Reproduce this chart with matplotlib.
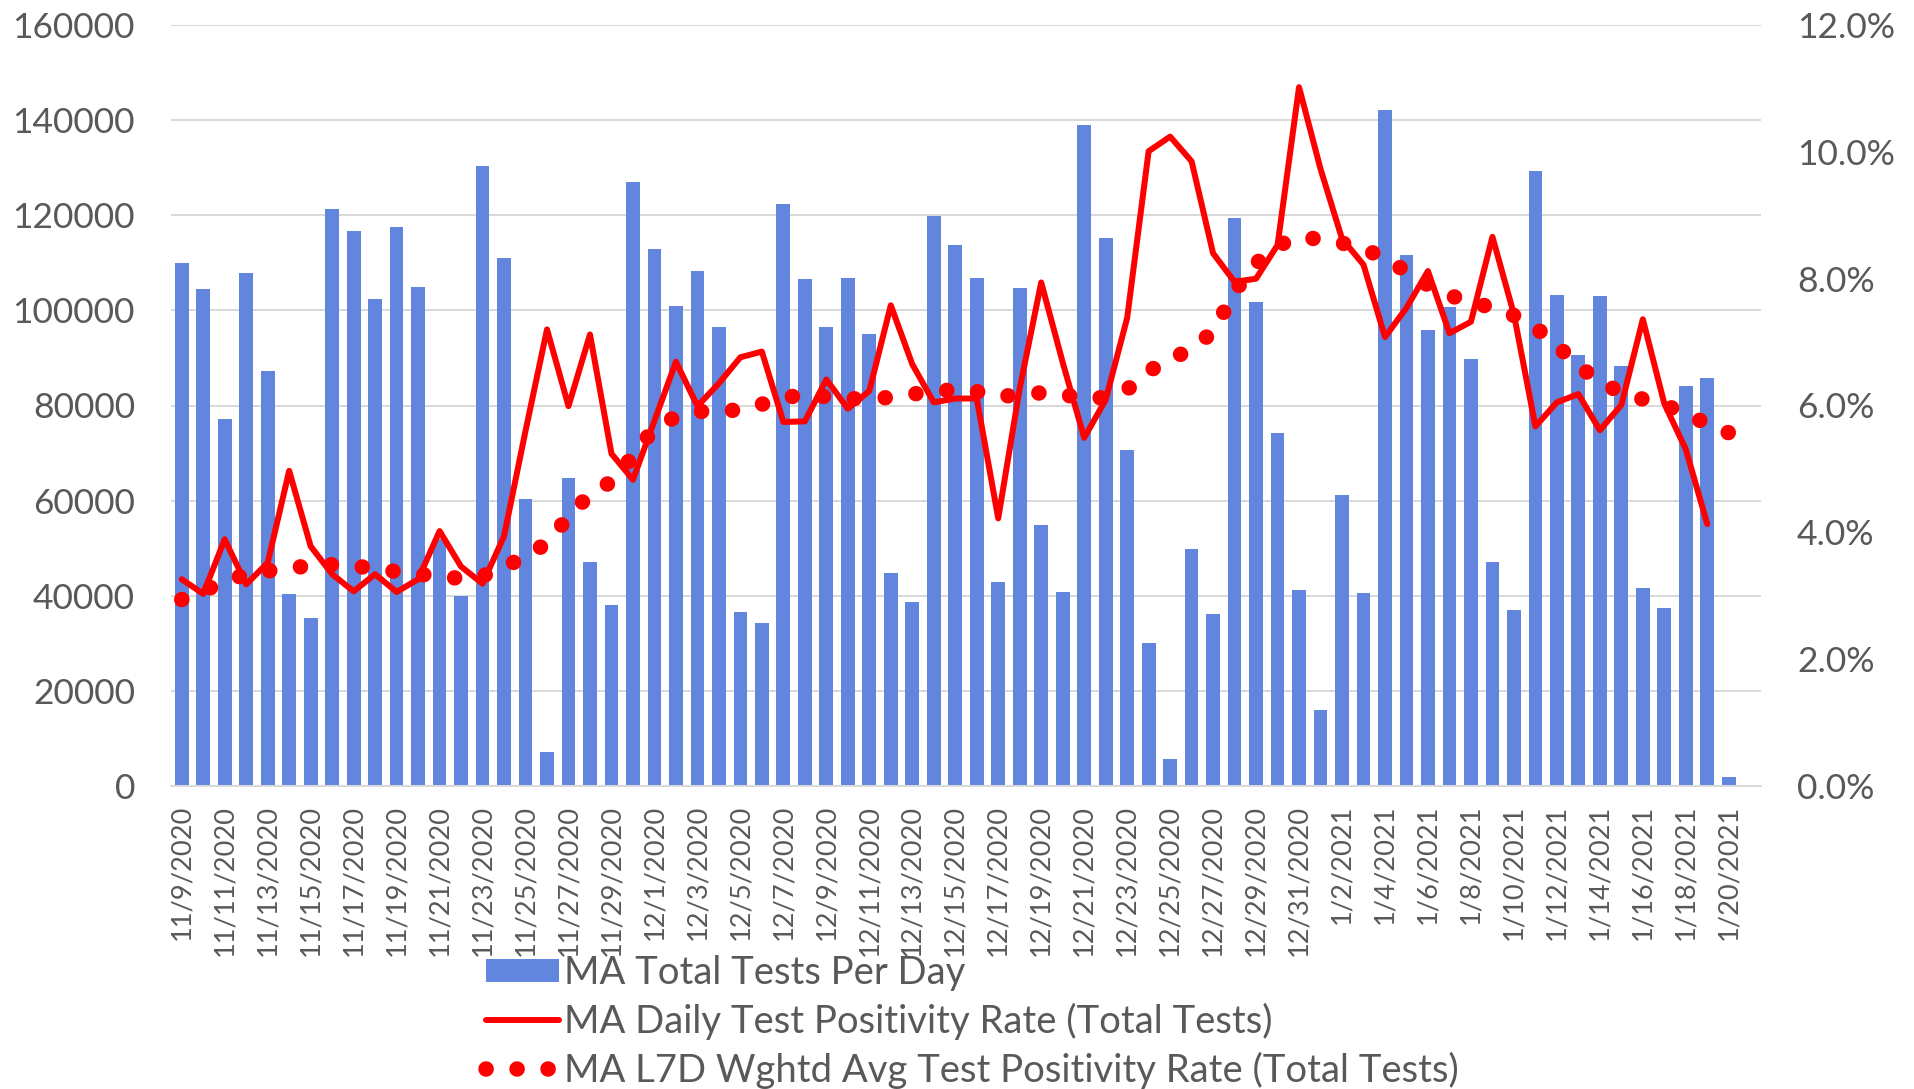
import matplotlib
matplotlib.use("Agg")
import matplotlib.pyplot as plt
import numpy as np
import datetime as dt

plt.rcParams['font.family'] = ['Lato', 'DejaVu Sans']

# ---- data ----
start = dt.date(2020, 11, 9)
dates = [start + dt.timedelta(days=i) for i in range(73)]
date_labels = [f"{d.month}/{d.day}/{d.year}" for d in dates]

total_tests = [110000, 104500, 77100, 107800, 87300, 40300, 35300, 121400, 116700, 102400,
               117600, 104900, 52000, 40000, 130400, 111100, 60400, 7100, 64700, 47000,
               38000, 126900, 112800, 101000, 108200, 96400, 36500, 34200, 122400, 106700,
               96400, 106900, 95000, 44800, 38600, 119800, 113700, 106800, 42900, 104700,
               54800, 40800, 139000, 115200, 70700, 30000, 5600, 49800, 36100, 119400,
               101700, 74200, 41300, 16000, 61200, 40500, 142200, 111700, 95900, 100700,
               89700, 47200, 36900, 129200, 103200, 90600, 103000, 88300, 41700, 37500,
               84100, 85800, 1800]

daily_rate = [3.26, 3.03, 3.89, 3.18, 3.52, 4.97, 3.78, 3.34, 3.07, 3.34,
              3.06, 3.26, 4.02, 3.46, 3.19, 3.94, 5.60, 7.20, 5.99, 7.12,
              5.24, 4.83, 5.76, 6.69, 5.99, 6.35, 6.76, 6.85, 5.74, 5.75,
              6.41, 5.95, 6.23, 7.58, 6.65, 6.05, 6.11, 6.11, 4.22, 6.27,
              7.94, 6.68, 5.49, 6.09, 7.38, 10.01, 10.24, 9.85, 8.40, 7.95,
              8.00, 8.53, 11.02, 9.73, 8.63, 8.22, 7.08, 7.54, 8.12, 7.14,
              7.32, 8.66, 7.44, 5.67, 6.05, 6.18, 5.61, 6.01, 7.36, 6.03,
              5.31, 4.13, np.nan]

wavg_rate = [2.94, 3.08, 3.22, 3.34, 3.39, 3.44, 3.47, 3.49, 3.47, 3.43,
             3.38, 3.34, 3.31, 3.27, 3.31, 3.45, 3.62, 3.83, 4.25, 4.60,
             4.80, 5.20, 5.65, 5.82, 5.90, 5.93, 5.92, 6.02, 6.13, 6.16,
             6.14, 6.11, 6.10, 6.13, 6.18, 6.22, 6.25, 6.22, 6.14, 6.17,
             6.20, 6.18, 6.10, 6.13, 6.25, 6.55, 6.70, 6.92, 7.15, 7.80,
             8.24, 8.52, 8.66, 8.62, 8.56, 8.49, 8.30, 8.12, 7.90, 7.74,
             7.62, 7.55, 7.42, 7.23, 6.95, 6.62, 6.38, 6.20, 6.10, 6.00,
             5.89, 5.70, 5.57]

labels_legend = ["MA Total Tests Per Day",
                 "MA Daily Test Positivity Rate (Total Tests)",
                 "MA L7D Wghtd Avg Test Positivity Rate (Total Tests)"]

# ---- style ----
TEXT = '#595959'
GRID = '#D9D9D9'
BAR = '#6285DD'
RED = '#FF0000'

W, H = 1915, 1089
PX = 72 / 100  # points per pixel at dpi 100
fig = plt.figure(figsize=(W / 100, H / 100), dpi=100)
ax = fig.add_axes([171 / W, 1 - 786 / H, (1761 - 171) / W, (786 - 25) / H])
ax2 = ax.twinx()

x = np.arange(len(dates))
bars = ax.bar(x, total_tests, width=0.64, color=BAR, zorder=2)

# category axis keeps one empty trailing slot, as in the original chart
ax.set_xlim(-0.5, len(dates) + 0.5)
ax.set_ylim(0, 160000)
ax.set_yticks(np.arange(0, 160001, 20000))
ax.set_yticklabels([f"{v:d}" for v in range(0, 160001, 20000)])
ax.grid(axis='y', color=GRID, linewidth=2 * PX, zorder=0)
ax.set_axisbelow(True)
ax.set_xticks(x[::2])
ax.set_xticklabels(date_labels[::2], rotation=90, ha='center', va='top')

for s in ['top', 'left', 'right']:
    ax.spines[s].set_visible(False)
ax.spines['bottom'].set_color(GRID)
ax.spines['bottom'].set_linewidth(2 * PX)
ax.tick_params(axis='y', length=0, pad=36 * PX, labelsize=25.5, colors=TEXT)
ax.tick_params(axis='x', length=0, pad=19 * PX, labelsize=19.6, colors=TEXT)

line1, = ax2.plot(x, np.array(daily_rate) / 100, color=RED, linewidth=6 * PX,
                  solid_joinstyle='round', solid_capstyle='round', zorder=3)
line2, = ax2.plot(x, np.array(wavg_rate) / 100, color=RED, linewidth=15.5 * PX,
                  linestyle=(0, (0.01, 1.99)), dash_capstyle='round', zorder=4)
ax2.set_ylim(0, 0.12)
ax2.set_yticks(np.arange(0, 0.1201, 0.02))
ax2.set_yticklabels([f"{v:.1f}%" for v in np.arange(0, 12.01, 2)])
for s in ['top', 'left', 'right', 'bottom']:
    ax2.spines[s].set_visible(False)
ax2.tick_params(axis='y', length=0, pad=36 * PX, labelsize=25.5, colors=TEXT)

leg = fig.legend([bars, line1, line2], labels_legend, loc='upper left',
                 bbox_to_anchor=(486 / W, 1 - 955 / H), frameon=False,
                 fontsize=27.5, labelcolor=TEXT, borderpad=0, borderaxespad=0,
                 handlelength=1.9, handleheight=0.55, handletextpad=0.15,
                 labelspacing=0.31)

fig.savefig('out.png', dpi=100)
